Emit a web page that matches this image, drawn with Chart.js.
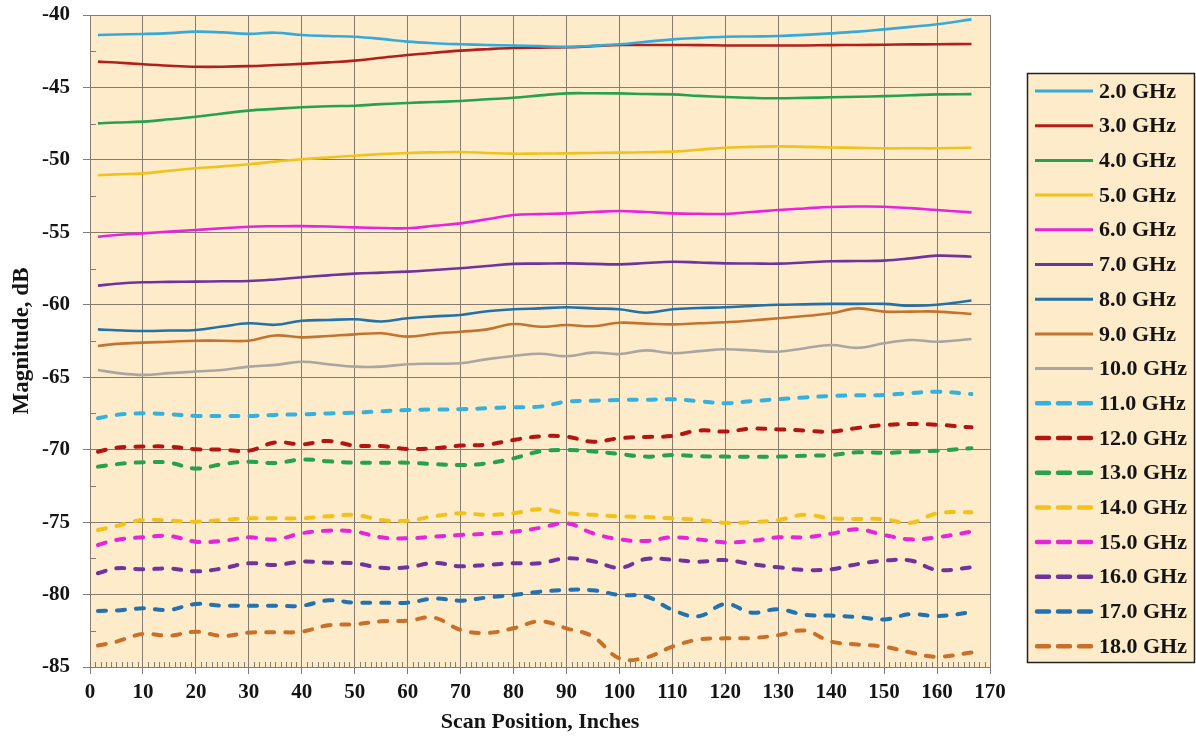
<!DOCTYPE html>
<html>
<head>
<meta charset="utf-8">
<script src="https://cdn.jsdelivr.net/npm/chart.js@4"></script>
<style>
  html, body { margin: 0; padding: 0; background: #ffffff; }
  #wrap { width: 1196px; height: 742px; position: relative; }
</style>
</head>
<body>
<div id="wrap"><canvas id="c" width="1196" height="742"></canvas></div>
<script>
// Scan positions (inches) shared by every frequency trace
const positions = [1.5, 5, 10, 15, 20, 25, 30, 35, 40, 45, 50, 55, 60, 65, 70, 75, 80, 85,
  90, 95, 100, 105, 110, 115, 120, 125, 130, 135, 140, 145, 150, 155, 160, 166.5];

// Measured magnitude (dB) per frequency
const ghz2 = [-41.38, -41.35, -41.31, -41.25, -41.15, -41.2, -41.3, -41.22, -41.38, -41.45, -41.5, -41.65, -41.84, -41.95, -42.02, -42.07, -42.1, -42.15, -42.2, -42.12, -42.02, -41.85, -41.68, -41.58, -41.5, -41.48, -41.45, -41.37, -41.27, -41.15, -40.99, -40.82, -40.64, -40.3];
const ghz3 = [-43.22, -43.28, -43.4, -43.5, -43.57, -43.57, -43.53, -43.45, -43.37, -43.27, -43.15, -42.95, -42.76, -42.6, -42.46, -42.36, -42.28, -42.25, -42.23, -42.15, -42.07, -42.07, -42.07, -42.08, -42.1, -42.1, -42.1, -42.1, -42.08, -42.07, -42.05, -42.03, -42.02, -42.0];
const ghz4 = [-47.48, -47.42, -47.36, -47.2, -47.02, -46.8, -46.6, -46.48, -46.37, -46.3, -46.26, -46.15, -46.07, -46.0, -45.94, -45.82, -45.71, -45.55, -45.41, -45.4, -45.41, -45.45, -45.48, -45.58, -45.66, -45.72, -45.75, -45.72, -45.68, -45.64, -45.6, -45.54, -45.48, -45.46];
const ghz5 = [-51.06, -51.0, -50.93, -50.75, -50.58, -50.45, -50.3, -50.12, -49.96, -49.83, -49.71, -49.6, -49.52, -49.48, -49.46, -49.52, -49.57, -49.56, -49.55, -49.52, -49.5, -49.47, -49.43, -49.3, -49.16, -49.1, -49.07, -49.1, -49.14, -49.17, -49.2, -49.2, -49.2, -49.16];
const ghz6 = [-55.3, -55.18, -55.07, -54.95, -54.84, -54.72, -54.61, -54.58, -54.57, -54.6, -54.66, -54.7, -54.72, -54.55, -54.38, -54.1, -53.8, -53.74, -53.69, -53.6, -53.53, -53.6, -53.69, -53.72, -53.73, -53.6, -53.46, -53.35, -53.25, -53.22, -53.23, -53.33, -53.46, -53.62];
const ghz7 = [-58.68, -58.55, -58.45, -58.42, -58.4, -58.38, -58.36, -58.25, -58.1, -57.97, -57.85, -57.78, -57.71, -57.6, -57.48, -57.32, -57.18, -57.16, -57.14, -57.18, -57.21, -57.12, -57.03, -57.08, -57.14, -57.15, -57.16, -57.08, -57.0, -56.98, -56.95, -56.8, -56.61, -56.68];
const ghz8 = [-61.7, -61.76, -61.81, -61.78, -61.74, -61.5, -61.28, -61.38, -61.1, -61.05, -61.0, -61.15, -60.93, -60.8, -60.7, -60.45, -60.31, -60.25, -60.17, -60.25, -60.31, -60.55, -60.31, -60.22, -60.17, -60.08, -60.0, -59.97, -59.94, -59.94, -59.94, -60.07, -60.0, -59.71];
const ghz9 = [-62.84, -62.7, -62.61, -62.55, -62.48, -62.48, -62.48, -62.12, -62.25, -62.15, -62.04, -61.97, -62.2, -62.0, -61.86, -61.7, -61.33, -61.52, -61.4, -61.48, -61.24, -61.3, -61.35, -61.28, -61.21, -61.08, -60.93, -60.78, -60.59, -60.25, -60.47, -60.47, -60.47, -60.64];
const ghz10 = [-64.5, -64.7, -64.84, -64.72, -64.61, -64.5, -64.27, -64.15, -63.93, -64.1, -64.27, -64.27, -64.1, -64.07, -64.04, -63.75, -63.53, -63.38, -63.55, -63.3, -63.4, -63.15, -63.35, -63.2, -63.07, -63.15, -63.24, -63.0, -62.78, -62.97, -62.66, -62.43, -62.55, -62.36];
const ghz11 = [-67.83, -67.6, -67.49, -67.55, -67.67, -67.67, -67.67, -67.6, -67.56, -67.5, -67.45, -67.35, -67.26, -67.23, -67.21, -67.14, -67.07, -67.03, -66.69, -66.62, -66.57, -66.55, -66.52, -66.65, -66.8, -66.65, -66.52, -66.4, -66.29, -66.25, -66.22, -66.1, -66.0, -66.16];
const ghz12 = [-70.14, -69.86, -69.79, -69.79, -69.97, -70.0, -70.07, -69.5, -69.63, -69.4, -69.72, -69.75, -69.95, -69.9, -69.72, -69.65, -69.33, -69.08, -69.1, -69.45, -69.21, -69.12, -69.05, -68.68, -68.75, -68.55, -68.6, -68.68, -68.75, -68.5, -68.3, -68.23, -68.28, -68.46];
const ghz13 = [-71.17, -71.0, -70.87, -70.9, -71.3, -71.0, -70.83, -70.92, -70.68, -70.8, -70.9, -70.9, -70.9, -71.0, -71.06, -70.95, -70.6, -70.12, -70.02, -70.12, -70.3, -70.48, -70.37, -70.45, -70.48, -70.48, -70.48, -70.42, -70.37, -70.18, -70.22, -70.15, -70.07, -69.9];
const ghz14 = [-75.54, -75.27, -74.85, -74.9, -74.97, -74.85, -74.74, -74.74, -74.74, -74.6, -74.5, -74.85, -74.9, -74.6, -74.39, -74.5, -74.39, -74.11, -74.39, -74.5, -74.6, -74.65, -74.74, -74.85, -75.05, -75.0, -74.85, -74.5, -74.74, -74.78, -74.8, -75.05, -74.39, -74.32];
const ghz15 = [-76.58, -76.23, -76.05, -75.96, -76.35, -76.3, -76.05, -76.2, -75.77, -75.59, -75.65, -76.05, -76.12, -76.0, -75.89, -75.8, -75.66, -75.4, -75.08, -75.77, -76.19, -76.3, -76.05, -76.2, -76.4, -76.3, -76.05, -76.05, -75.8, -75.5, -75.89, -76.19, -76.05, -75.66];
const ghz16 = [-78.53, -78.19, -78.26, -78.2, -78.4, -78.2, -77.84, -77.96, -77.73, -77.8, -77.84, -78.15, -78.12, -77.82, -78.05, -77.95, -77.84, -77.84, -77.5, -77.7, -78.15, -77.55, -77.6, -77.73, -77.62, -77.9, -78.12, -78.3, -78.25, -77.9, -77.66, -77.65, -78.3, -78.12];
const ghz17 = [-81.13, -81.1, -80.95, -81.05, -80.65, -80.77, -80.77, -80.77, -80.77, -80.4, -80.56, -80.56, -80.56, -80.28, -80.42, -80.2, -80.03, -79.8, -79.68, -79.7, -80.03, -80.12, -81.05, -81.5, -80.65, -81.25, -81.01, -81.4, -81.45, -81.55, -81.72, -81.35, -81.49, -81.22];
const ghz18 = [-83.52, -83.25, -82.72, -82.84, -82.56, -82.86, -82.63, -82.6, -82.56, -82.12, -82.05, -81.85, -81.8, -81.6, -82.44, -82.65, -82.33, -81.85, -82.33, -82.9, -84.4, -84.35, -83.6, -83.1, -83.02, -83.0, -82.8, -82.49, -83.25, -83.45, -83.6, -84.0, -84.29, -84.0];

const seriesNames = ['2.0 GHz', '3.0 GHz', '4.0 GHz', '5.0 GHz', '6.0 GHz', '7.0 GHz', '8.0 GHz', '9.0 GHz', '10.0 GHz',
  '11.0 GHz', '12.0 GHz', '13.0 GHz', '14.0 GHz', '15.0 GHz', '16.0 GHz', '17.0 GHz', '18.0 GHz'];
const seriesValues = [ghz2, ghz3, ghz4, ghz5, ghz6, ghz7, ghz8, ghz9, ghz10,
  ghz11, ghz12, ghz13, ghz14, ghz15, ghz16, ghz17, ghz18];

const xTicks = { min: 0, max: 170, step: 10 };
const yTicks = { min: -85, max: -40, step: 5 };

// Styling
const colors = ['#35a9da', '#b3201b', '#26a24d', '#f2c21a', '#e524dd', '#6f33a0', '#2271a9', '#c2742f', '#a9a6a2',
  '#35b1e0', '#b31414', '#26a24d', '#f2c21a', '#e524dd', '#6f33a0', '#2271b0', '#c8702a'];
const SERIF = '"Liberation Serif", "Times New Roman", serif';
const PLOT_BG = '#fdebc9';
const GRID = '#857b70';
const TEXT = '#141414';

const datasets = seriesNames.map((name, i) => {
  const dashed = i >= 9;
  return {
    label: name,
    data: seriesValues[i].map((v, k) => ({ x: positions[k], y: v })),
    borderColor: colors[i],
    backgroundColor: colors[i],
    borderWidth: dashed ? 4 : 2.6,
    borderDash: dashed ? [8, 11] : [],
    borderCapStyle: dashed ? 'round' : 'butt',
    borderJoinStyle: 'round',
    pointRadius: 0,
    pointHoverRadius: 0,
    tension: 0.4,
    fill: false
  };
});

// Peach plot background
const plotBackground = {
  id: 'plotBackground',
  beforeDraw(chart) {
    const { ctx, chartArea: a } = chart;
    ctx.save();
    ctx.fillStyle = PLOT_BG;
    ctx.fillRect(a.left, a.top, a.right - a.left, a.bottom - a.top);
    ctx.restore();
  }
};

// Short minor tick marks on the inside of both axes
const minorTicks = {
  id: 'minorTicks',
  afterDatasetsDraw(chart) {
    const { ctx, chartArea: a, scales } = chart;
    ctx.save();
    ctx.strokeStyle = GRID;
    ctx.lineWidth = 1;
    ctx.beginPath();
    for (let v = xTicks.min + 1; v < xTicks.max; v++) {
      if (v % xTicks.step === 0) continue;
      const px = Math.round(scales.x.getPixelForValue(v)) + 0.5;
      ctx.moveTo(px, a.bottom);
      ctx.lineTo(px, a.bottom - 5);
    }
    for (let v = yTicks.min + 2.5; v < yTicks.max; v += yTicks.step) {
      const py = Math.round(scales.y.getPixelForValue(v)) + 0.5;
      ctx.moveTo(a.left, py);
      ctx.lineTo(a.left + 6, py);
    }
    ctx.stroke();
    ctx.restore();
  }
};

// Boxed legend to the right of the plot
const boxedLegend = {
  id: 'boxedLegend',
  afterDraw(chart) {
    const { ctx } = chart;
    const box = { left: 1027, top: 73, right: 1195, bottom: 663 };
    ctx.save();
    ctx.fillStyle = PLOT_BG;
    ctx.fillRect(box.left, box.top, box.right - box.left, box.bottom - box.top);
    ctx.strokeStyle = '#222';
    ctx.lineWidth = 1.5;
    ctx.strokeRect(box.left + 0.5, box.top + 0.5, box.right - box.left - 1, box.bottom - box.top - 1);
    const first = 91, gap = 34.7;
    chart.data.datasets.forEach((ds, i) => {
      const y = first + i * gap;
      const dashed = ds.borderDash && ds.borderDash.length;
      ctx.beginPath();
      ctx.strokeStyle = ds.borderColor;
      ctx.lineWidth = dashed ? 4.5 : 3;
      ctx.lineCap = dashed ? 'round' : 'butt';
      ctx.setLineDash(dashed ? [12, 9] : []);
      ctx.moveTo(dashed ? 1037 : 1035, y);
      ctx.lineTo(1093, y);
      ctx.stroke();
      ctx.setLineDash([]);
      ctx.fillStyle = TEXT;
      ctx.font = 'bold 22px ' + SERIF;
      ctx.textAlign = 'left';
      ctx.textBaseline = 'middle';
      ctx.fillText(ds.label, 1099, y + 1);
    });
    ctx.restore();
  }
};

new Chart(document.getElementById('c'), {
  type: 'line',
  data: { datasets },
  plugins: [plotBackground, minorTicks, boxedLegend],
  options: {
    responsive: false,
    animation: false,
    events: [],
    layout: { padding: { left: 0, right: 206, top: 15, bottom: 0 } },
    plugins: { legend: { display: false }, tooltip: { enabled: false } },
    scales: {
      x: {
        type: 'linear',
        min: xTicks.min,
        max: xTicks.max,
        afterFit(scale) { scale.height = 75; scale.paddingLeft = 0; scale.paddingRight = 0; },
        ticks: { stepSize: xTicks.step, color: TEXT, padding: 6, font: { family: SERIF, size: 21, weight: 'bold' } },
        grid: { color: GRID, lineWidth: 1, tickLength: 7, tickColor: GRID },
        border: { color: GRID, width: 1 },
        title: { display: true, text: 'Scan Position, Inches', color: TEXT, padding: { top: 0, bottom: 6 },
          font: { family: SERIF, size: 22, weight: 'bold' } }
      },
      y: {
        type: 'linear',
        min: yTicks.min,
        max: yTicks.max,
        afterFit(scale) { scale.width = 90; scale.paddingTop = 0; scale.paddingBottom = 0; },
        ticks: { stepSize: yTicks.step, color: TEXT, padding: 13, font: { family: SERIF, size: 21, weight: 'bold' } },
        grid: { color: GRID, lineWidth: 1, tickLength: 7, tickColor: GRID },
        border: { color: GRID, width: 1 },
        title: { display: true, text: 'Magnitude, dB', color: TEXT, padding: { top: 8, bottom: 0 },
          font: { family: SERIF, size: 23, weight: 'bold' } }
      }
    }
  }
});
</script>
</body>
</html>
